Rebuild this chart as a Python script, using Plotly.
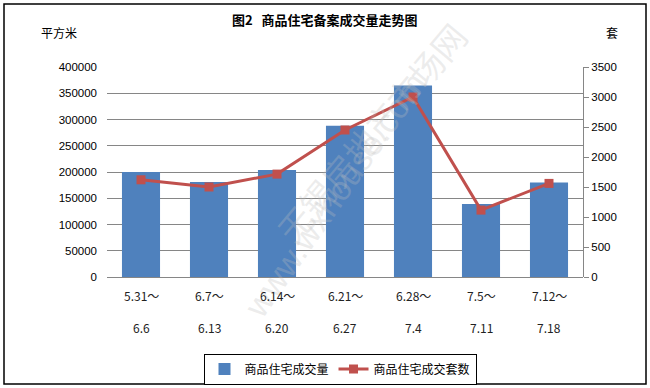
import plotly.graph_objects as go

categories = ["5.31～6.6", "6.7～6.13", "6.14～6.20", "6.21～6.27", "6.28～7.4", "7.5～7.11", "7.12～7.18"]
label_line1 = ["5.31～", "6.7～", "6.14～", "6.21～", "6.28～", "7.5～", "7.12～"]
label_line2 = ["6.6", "6.13", "6.20", "6.27", "7.4", "7.11", "7.18"]
area_values = [200000, 181000, 204000, 288000, 365000, 139000, 180000]
unit_values = [1620, 1500, 1715, 2450, 3000, 1115, 1560]
left_ticks = [0, 50000, 100000, 150000, 200000, 250000, 300000, 350000, 400000]
right_ticks = [0, 500, 1000, 1500, 2000, 2500, 3000, 3500]

FONT = "Noto Sans CJK SC, Liberation Sans, sans-serif"
NUMFONT = "Liberation Sans, Arial, sans-serif"


def px_x(p):
    return (p - 107) / 476


def px_y(p):
    return (277 - p) / 210


fig = go.Figure()
fig.add_trace(go.Bar(
    x=categories, y=area_values, name="商品住宅成交量",
    marker=dict(color="#4F81BD", line=dict(width=0)),
    yaxis="y",
))
fig.add_trace(go.Scatter(
    x=categories, y=unit_values, name="商品住宅成交套数",
    mode="lines+markers",
    line=dict(color="#C0504D", width=3),
    marker=dict(symbol="square", size=9, color="#C0504D"),
    yaxis="y2",
))

annotations = [
    dict(text="无锡房地产市场网", xref="paper", yref="paper", x=px_x(262), y=px_y(255),
         showarrow=False, textangle=-50, font=dict(size=34, color="rgba(190,190,190,0.28)", family=FONT)),
    dict(text="www.wxhouse.com", xref="paper", yref="paper", x=px_x(335), y=px_y(195),
         showarrow=False, textangle=-55, font=dict(size=34, color="rgba(190,190,190,0.28)", family=NUMFONT)),
]
for c, l1, l2 in zip(categories, label_line1, label_line2):
    annotations.append(dict(x=c, xref="x", y=px_y(295), yref="paper", text=l1,
                            showarrow=False, font=dict(size=12, color="#222", family=FONT),
                            xanchor="center", yanchor="middle"))
    annotations.append(dict(x=c, xref="x", y=px_y(327), yref="paper", text=l2,
                            showarrow=False, font=dict(size=12, color="#222", family=FONT),
                            xanchor="center", yanchor="middle"))

annotations += [
    dict(text="<b>图2\u00a0\u00a0\u00a0商品住宅备案成交量走势图</b>", xref="paper", yref="paper",
         x=px_x(325), y=px_y(20), showarrow=False,
         font=dict(size=13, color="#000", family=FONT), xanchor="center", yanchor="middle"),
    dict(text="平方米", xref="paper", yref="paper",
         x=px_x(59), y=px_y(33), showarrow=False,
         font=dict(size=12, color="#000", family=FONT), xanchor="center", yanchor="middle"),
    dict(text="套", xref="paper", yref="paper",
         x=px_x(612), y=px_y(33), showarrow=False,
         font=dict(size=12, color="#000", family=FONT), xanchor="center", yanchor="middle"),
]

fig.update_layout(
    width=650, height=388,
    margin=dict(l=107, r=67, t=67, b=111, autoexpand=False),
    paper_bgcolor="white", plot_bgcolor="white",
    showlegend=True,
    legend=dict(orientation="h", x=px_x(340), y=px_y(369),
                xanchor="center", yanchor="middle",
                bordercolor="#000", borderwidth=1, bgcolor="white",
                font=dict(size=12, family=FONT, color="#000"),
                itemwidth=30, tracegroupgap=0),
    bargap=0.44,
    xaxis=dict(showticklabels=False, showgrid=False, showline=False, zeroline=False, ticks=""),
    yaxis=dict(range=[0, 400000], tickvals=left_ticks, ticktext=[str(v) for v in left_ticks],
               showgrid=True, gridcolor="#868686", gridwidth=1, showline=False,
               zeroline=True, zerolinecolor="#868686", zerolinewidth=1,
               ticks="", tickfont=dict(size=11.5, family=NUMFONT, color="#000"),
               ticklabelstandoff=9),
    yaxis2=dict(range=[0, 3500], tickvals=right_ticks, overlaying="y", side="right",
                showgrid=False, showline=True, linecolor="#868686", linewidth=1,
                ticks="outside", ticklen=5, tickcolor="#868686", zeroline=False,
                tickfont=dict(size=11.5, family=NUMFONT, color="#000")),
    annotations=annotations,
    shapes=[dict(type="rect", xref="paper", yref="paper",
                 x0=px_x(4), x1=px_x(646),
                 y0=px_y(384), y1=px_y(4),
                 line=dict(color="#000", width=1.5), fillcolor="rgba(0,0,0,0)", layer="below")],
)

fig.write_html("out.html", config={"displayModeBar": False},
               post_script="document.body.style.margin='0';")
